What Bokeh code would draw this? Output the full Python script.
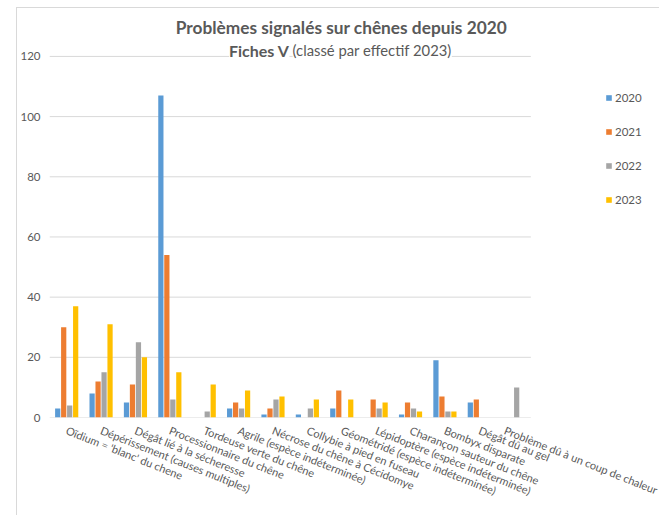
from bokeh.plotting import figure
from bokeh.models import FixedTicker, Legend, LegendItem, Label, ColumnDataSource, Range1d
from bokeh.transform import dodge
from bokeh.embed import file_html
from bokeh.resources import INLINE

categories = [
    "Oïdium = 'blanc' du chene",
    "Dépérissement (causes multiples)",
    "Dégât lié à la sécheresse",
    "Processionnaire du chêne",
    "Tordeuse verte du chêne",
    "Agrile (espèce indéterminée)",
    "Nécrose du chêne à Cécidomye",
    "Collybie à pied en fuseau",
    "Géométridé (espèce indéterminée)",
    "Lépidoptère (espèce indéterminée)",
    "Charançon sauteur du chêne",
    "Bombyx disparate",
    "Dégât dû au gel",
    "Problème dû à un coup de chaleur",
]
years = ["2020", "2021", "2022", "2023"]
v2020 = [3, 8, 5, 107, 0, 3, 1, 1, 3, 0, 1, 19, 5, 0]
v2021 = [30, 12, 11, 54, 0, 5, 3, 0, 9, 6, 5, 7, 6, 0]
v2022 = [4, 15, 25, 6, 2, 3, 6, 3, 0, 3, 3, 2, 0, 10]
v2023 = [37, 31, 20, 15, 11, 9, 7, 6, 6, 5, 2, 2, 0, 0]
y_ticks = [0, 20, 40, 60, 80, 100, 120]
colors = ["#5B9BD5", "#ED7D31", "#A5A5A5", "#FFC000"]

FONT = "Lato"
GREY = "#595959"
GRID = "#D9D9D9"

n = len(categories)
centers = [i + 0.5 for i in range(n)]
source = ColumnDataSource(data=dict(x=centers, y2020=v2020, y2021=v2021, y2022=v2022, y2023=v2023))

p = figure(
    x_range=Range1d(0, 17.77),
    y_range=Range1d(0, 134.6),
    width=643, height=508,
    output_backend="svg", toolbar_location=None,
    min_border_left=30, min_border_right=0, min_border_top=4, min_border_bottom=99,
)
p.margin = (7, 0, 0, 16)
p.styles = {"border-left": "1px solid #D9D9D9", "border-top": "1px solid #D9D9D9"}
p.outline_line_color = None
p.background_fill_color = "white"
p.border_fill_color = "white"
p.xgrid.grid_line_color = None
p.ygrid.grid_line_color = None

# horizontal gridlines limited to the category span
p.segment(x0=0, x1=n, y0=y_ticks, y1=y_ticks, line_color=GRID, line_width=1)

pitch = 0.174
bw = 0.152
renderers = []
cols = ["y2020", "y2021", "y2022", "y2023"]
for i, (col, c) in enumerate(zip(cols, colors)):
    r = p.vbar(x=dodge("x", (i - 1.5) * pitch), top=col, width=bw,
               source=source, fill_color=c, line_color=None)
    renderers.append(r)

p.yaxis.ticker = FixedTicker(ticks=y_ticks)
p.yaxis.axis_line_color = None
p.yaxis.major_tick_line_color = None
p.yaxis.minor_tick_line_color = None
p.yaxis.major_tick_in = 0
p.yaxis.major_tick_out = 0
p.yaxis.major_label_standoff = 9
p.yaxis.major_label_text_font = FONT
p.yaxis.major_label_text_font_size = "11.5px"
p.yaxis.major_label_text_color = GREY

p.xaxis.ticker = FixedTicker(ticks=centers)
p.xaxis.major_label_overrides = {c: lab for c, lab in zip(centers, categories)}
p.xaxis.axis_line_color = None
p.xaxis.major_tick_line_color = None
p.xaxis.minor_tick_line_color = None
p.xaxis.major_tick_in = 0
p.xaxis.major_tick_out = 0
p.xaxis.major_label_orientation = -0.38
p.xaxis.major_label_standoff = 12
p.xaxis.major_label_text_font = FONT
p.xaxis.major_label_text_font_size = "11px"
p.xaxis.major_label_text_color = GREY

legend = Legend(
    items=[LegendItem(label=y, renderers=[r]) for y, r in zip(years, renderers)],
    location=(556, 211), orientation="vertical",
    border_line_color=None, background_fill_alpha=0,
    label_text_font=FONT, label_text_font_size="11.5px", label_text_color=GREY,
    glyph_width=7, glyph_height=7, label_height=14, spacing=20,
    padding=0, margin=0, label_standoff=3,
)
p.add_layout(legend)

p.add_layout(Label(x=8.49, y=129.6, text="Problèmes signalés sur chênes depuis 2020",
                   text_font=FONT, text_font_style="bold", text_font_size="17.3px",
                   text_color=GREY, text_align="center", text_baseline="alphabetic"))
p.add_layout(Label(x=5.22, y=122.0, text="Fiches V",
                   text_font=FONT, text_font_style="bold", text_font_size="16px",
                   text_color=GREY, text_align="left", text_baseline="alphabetic",
                   background_fill_color="white"))
p.add_layout(Label(x=7.07, y=122.0, text="(classé par effectif 2023)",
                   text_font=FONT, text_font_size="14.8px",
                   text_color=GREY, text_align="left", text_baseline="alphabetic",
                   background_fill_color="white"))

open("out.html", "w").write(file_html(p, INLINE))
